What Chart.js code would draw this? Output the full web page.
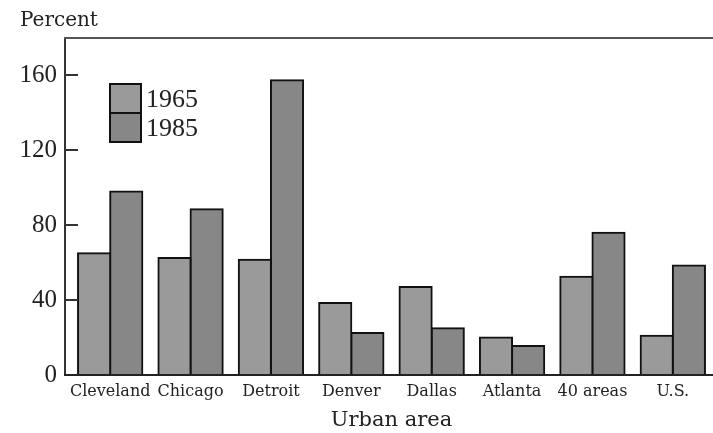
<!DOCTYPE html>
<html>
<head>
<meta charset="utf-8">
<script src="https://cdn.jsdelivr.net/npm/chart.js@4/dist/chart.umd.min.js"></script>
<style>
  html, body { margin: 0; padding: 0; background: #fff; }
  #wrap { width: 713px; height: 433px; }
</style>
</head>
<body>
<div id="wrap"><canvas id="bars"></canvas></div>
<script>
// categories and values
const areas = ['Cleveland', 'Chicago', 'Detroit', 'Denver', 'Dallas', 'Atlanta', '40 areas', 'U.S.'];
const years = ['1965', '1985'];
const values1965 = [65, 62.5, 61.5, 38.5, 47, 20, 52.5, 21];
const values1985 = [98, 88.5, 157.5, 22.5, 25, 15.5, 76, 58.5];
const yTicks = [0, 40, 80, 120, 160];

const ink = '#222';
const words = 'DejaVu Serif';
const digits = 'Liberation Serif';
const gap = 5; // axis line sits a little left of the first category

// frame lines, short tick marks inside the frame, stacked legend boxes
const framePlugin = {
  id: 'frame',
  afterDatasetsDraw(chart) {
    const ctx = chart.ctx;
    const area = chart.chartArea;
    const y = chart.scales.y;
    const ax = area.left - gap;
    ctx.save();
    ctx.lineWidth = 2;
    ctx.strokeStyle = '#333';
    ctx.beginPath();
    ctx.moveTo(ax, area.top);
    ctx.lineTo(ax, area.bottom);
    ctx.stroke();
    ctx.strokeStyle = '#222';
    ctx.beginPath();
    ctx.moveTo(ax - 1, area.bottom);
    ctx.lineTo(chart.width, area.bottom);
    ctx.stroke();
    ctx.strokeStyle = '#555';
    ctx.beginPath();
    ctx.moveTo(ax - 1, area.top);
    ctx.lineTo(chart.width, area.top);
    ctx.stroke();

    ctx.strokeStyle = '#333';
    yTicks.forEach(v => {
      if (v === 0) return;
      const py = Math.round(y.getPixelForValue(v));
      ctx.beginPath();
      ctx.moveTo(ax, py);
      ctx.lineTo(ax + 13, py);
      ctx.stroke();
    });

    // legend: two boxes stacked, labels right of them
    const bx = 110, by = 84, bw = 31, bh = 29;
    chart.data.datasets.forEach((ds, i) => {
      ctx.fillStyle = ds.backgroundColor;
      ctx.fillRect(bx, by + i * bh, bw, bh);
      ctx.strokeStyle = '#111';
      ctx.lineWidth = 2;
      ctx.strokeRect(bx, by + i * bh, bw, bh);
      ctx.fillStyle = ink;
      ctx.font = '26px "' + digits + '"';
      ctx.textBaseline = 'alphabetic';
      ctx.textAlign = 'left';
      ctx.fillText(ds.label, bx + bw + 5, by + i * bh + 23);
    });
    ctx.restore();
  }
};

new Chart(document.getElementById('bars'), {
  type: 'bar',
  data: {
    labels: areas,
    datasets: [
      {
        label: years[0],
        data: values1965,
        backgroundColor: '#9a9a9a',
        borderColor: '#111',
        borderWidth: 2,
        inflateAmount: 1,
        borderSkipped: 'bottom'
      },
      {
        label: years[1],
        data: values1985,
        backgroundColor: '#878787',
        borderColor: '#111',
        borderWidth: 2,
        inflateAmount: 1,
        borderSkipped: 'bottom'
      }
    ]
  },
  options: {
    responsive: true,
    maintainAspectRatio: false,
    animation: false,
    layout: { padding: { left: 20, right: 0, top: 0, bottom: 0 } },
    datasets: { bar: { categoryPercentage: 0.8, barPercentage: 1.0 } },
    scales: {
      x: {
        afterFit: s => { s.height = 58; },
        grid: { display: false, drawTicks: false },
        border: { display: false },
        ticks: {
          autoSkip: false,
          maxRotation: 0,
          padding: 7,
          color: ink,
          font: { family: words, size: 16 }
        },
        title: {
          display: true,
          text: 'Urban area',
          color: ink,
          font: { family: words, size: 21 },
          padding: { top: 0, bottom: 0 }
        }
      },
      y: {
        min: 0,
        max: 180,
        afterBuildTicks: s => { s.ticks = yTicks.map(v => ({ value: v })); },
        afterFit: s => { s.width = 50; },
        grid: { display: false, drawTicks: false },
        border: { display: false },
        ticks: {
          padding: 8 + gap,
          color: ink,
          font: { family: digits, size: 25 }
        }
      }
    },
    plugins: {
      legend: { display: false },
      tooltip: { enabled: false },
      title: {
        display: true,
        text: 'Percent',
        align: 'start',
        color: ink,
        font: { family: words, size: 20, weight: 'normal', lineHeight: 1.2 },
        padding: { top: 9, bottom: 5 }
      }
    }
  },
  plugins: [framePlugin]
});
</script>
</body>
</html>
